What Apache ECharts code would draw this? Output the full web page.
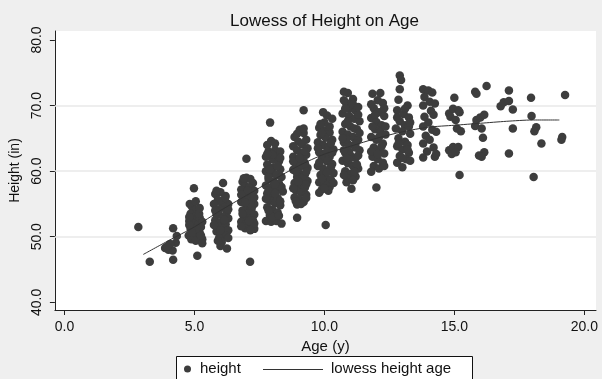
<!DOCTYPE html>
<html>
<head>
<meta charset="utf-8">
<script src="https://cdn.jsdelivr.net/npm/echarts@6/dist/echarts.min.js"></script>
<style>
  html, body { margin: 0; padding: 0; background: #efefef; }
  #chart { width: 602px; height: 379px; }
</style>
</head>
<body>
<div id="chart"></div>
<script>
// Children's height (in) by age (y), ages jittered within each year.
const kids3 = [[2.84,51.5],[3.28,46.2]];
const kids4 = [[3.87,48.3],[4.0,48.0],[4.16,47.9],[4.28,49.1],[4.32,50.1],[4.06,48.9],[4.18,46.5],[4.18,51.3],[3.95,48.5]];
const kids5 = [[4.82,55.0],[4.9,54.6],[5.05,54.2],[4.85,53.5],[5.0,53.0],[5.12,52.7],[4.8,52.4],[4.95,52.0],[5.15,51.9],[5.25,51.5],
  [4.85,51.2],[5.0,50.8],[5.2,50.6],[4.78,50.2],[4.95,50.0],[5.1,49.8],[5.3,49.6],[4.88,49.6],[5.05,49.4],[5.3,49.0],
  [5.2,52.9],[5.08,51.3],[4.98,57.4],[5.11,47.1],[4.9,50.6],[5.18,53.5],
  [4.8,51.8],[5.25,50.2],[5.3,52.3],[4.8,53.0],[5.2,54.4],[5.05,55.4]];
const kids6 = [[6.1,58.2],[6.0,56.8],[5.8,56.5],[6.2,56.2],[5.9,55.6],[6.05,55.2],[6.3,55.0],[5.75,55.0],[6.15,54.5],[5.95,54.2],
  [6.25,53.8],[5.85,53.4],[6.1,53.1],[6.3,52.8],[5.8,52.5],[6.0,52.2],[6.2,51.9],[5.9,51.6],[6.1,51.2],[6.3,51.0],
  [5.85,50.8],[6.0,50.5],[6.2,50.2],[5.95,49.8],[6.05,49.2],[6.0,48.6],[6.25,48.2],[6.15,52.6],[5.92,53.9],[6.18,55.9],
  [5.8,54.0],[6.3,54.2],[5.75,51.8],[6.3,49.8],[5.85,57.0],[6.0,51.0],[5.9,49.4]];
const kids7 = [[7.0,61.9],[7.0,59.0],[7.15,58.8],[6.85,58.4],[7.25,58.2],[6.95,57.8],[7.1,57.5],[6.8,57.2],[7.3,57.0],[7.0,56.6],
  [7.2,56.3],[6.9,56.0],[7.1,55.6],[6.8,55.3],[7.3,55.0],[7.0,54.7],[7.2,54.3],[6.85,54.0],[7.1,53.6],[7.3,53.4],
  [6.9,53.1],[7.05,52.8],[7.25,52.5],[6.8,52.3],[7.0,52.0],[7.2,51.6],[6.95,51.3],[7.3,51.2],[7.14,46.2],[7.15,55.0],
  [6.95,55.2],[7.05,57.0],
  [6.8,56.4],[7.3,56.0],[6.85,53.5],[7.3,52.0],[6.9,58.9],[7.1,52.4],[6.8,51.6],[7.15,51.0]];
const kids8 = [[7.91,67.4],[7.95,64.6],[8.1,63.2],[7.85,63.0],[8.2,62.6],[7.75,62.2],[8.0,61.8],[8.25,61.5],[7.8,61.0],[8.05,60.6],
  [8.3,60.3],[7.75,60.0],[7.95,59.7],[8.15,59.4],[8.35,59.1],[7.85,58.8],[8.05,58.4],[8.25,58.1],[7.75,57.8],[7.95,57.5],
  [8.2,57.2],[8.4,56.9],[7.8,56.6],[8.0,56.2],[8.2,55.9],[7.9,55.5],[8.1,55.1],[8.3,54.8],[7.8,54.5],[8.0,54.1],
  [8.2,53.7],[7.9,53.3],[8.1,52.9],[7.75,52.4],[7.95,52.3],[8.15,52.4],[8.35,52.0],[8.3,63.0],[8.0,62.5],[7.85,59.2],
  [8.1,64.2],[7.8,64.0],[8.3,62.0],[7.9,60.3],[8.2,60.8],[8.35,57.6],[7.85,57.0],[8.1,56.6],[8.3,55.4],[7.75,55.8],
  [8.0,53.0],[8.25,53.2],[7.85,54.0],[8.1,58.0],[7.8,62.6]];
const kids9 = [[9.2,69.3],[9.05,66.3],[9.2,65.8],[8.85,65.2],[9.3,64.8],[9.0,64.5],[9.15,64.1],[8.8,63.8],[9.35,63.5],[8.95,63.2],
  [9.1,62.8],[9.3,62.5],[8.8,62.2],[9.0,61.8],[9.2,61.5],[8.9,61.1],[9.1,60.8],[9.35,60.5],[8.8,60.2],[9.0,59.8],
  [9.25,59.5],[8.95,59.1],[9.15,58.8],[9.35,58.5],[8.85,58.2],[9.05,57.8],[9.25,57.5],[8.9,57.1],[9.1,56.7],[9.3,56.4],
  [8.85,56.0],[9.05,55.6],[9.2,55.3],[8.95,54.9],[8.95,52.9],[9.15,59.0],[8.9,60.0],[9.25,61.2],
  [8.95,65.7],[9.25,63.0],[8.8,61.5],[9.3,59.9],[9.0,58.4],[8.8,57.4],[9.3,55.9],[9.1,55.0],[8.9,55.4],[9.2,66.5],
  [9.05,62.0],[9.3,58.0]];
const kids10 = [[9.95,69.0],[10.1,68.5],[10.3,68.0],[9.8,66.6],[10.0,66.2],[10.2,65.9],[9.85,65.5],[10.05,65.1],[10.3,64.8],[9.75,64.4],
  [9.95,64.0],[10.15,63.7],[10.35,63.3],[9.8,62.9],[10.0,62.6],[10.2,62.2],[9.9,61.8],[10.1,61.5],[10.3,61.1],[9.75,60.8],
  [9.95,60.4],[10.15,60.1],[10.35,59.7],[9.85,59.4],[10.05,59.0],[10.25,58.7],[9.8,58.3],[10.0,58.0],[10.2,57.6],[9.9,57.2],
  [9.8,56.7],[10.05,51.8],[10.1,63.0],[9.9,65.8],[10.25,60.6],
  [10.2,66.8],[10.3,62.8],[9.8,61.3],[10.1,59.8],[10.35,58.2],[9.9,58.8],[10.15,57.0],[9.75,63.5],[10.0,67.4],[10.25,64.3],
  [9.85,67.2],[10.0,57.4]];
const kids11 = [[10.75,72.1],[10.9,71.9],[11.1,71.0],[10.85,70.2],[11.0,69.6],[11.2,69.2],[10.7,68.8],[10.95,68.4],[11.15,68.0],[11.35,67.6],
  [10.8,67.2],[11.0,66.8],[11.25,66.4],[10.7,66.0],[10.9,65.6],[11.1,65.2],[11.3,64.8],[10.75,64.4],[10.95,64.0],[11.2,63.6],
  [11.35,63.2],[10.8,62.8],[11.0,62.4],[11.2,62.0],[10.7,61.6],[10.9,61.2],[11.1,60.8],[11.3,60.4],[10.8,60.0],[11.0,59.6],
  [11.2,59.2],[10.9,58.8],[10.85,58.3],[11.04,57.3],[11.05,70.5],[10.85,64.9],[11.15,66.5],[10.95,63.0],[11.25,61.0],[10.8,69.5],
  [11.1,70.2],[10.75,70.8],[11.3,68.6],[10.9,67.6],[11.35,65.8],[10.7,65.0],[11.2,64.2],[10.75,63.2],[11.3,62.4],[10.95,61.8],
  [11.15,59.9],[10.75,59.4],[11.1,58.6],[11.3,69.8],[10.85,62.0]];
const kids12 = [[11.85,71.8],[12.15,71.9],[12.05,70.8],[12.25,70.4],[11.9,69.6],[12.1,69.0],[12.3,68.4],[11.8,68.1],[12.0,67.5],[12.2,67.0],
  [11.95,66.4],[12.15,66.0],[12.35,65.6],[11.8,65.2],[12.0,64.8],[12.25,64.2],[11.9,63.6],[12.1,63.2],[12.3,62.7],[11.85,62.2],
  [12.05,61.8],[12.25,61.3],[11.9,60.8],[12.1,60.4],[11.8,59.9],[12.0,57.5],[12.1,65.2],[11.95,68.6],
  [12.3,69.6],[11.8,70.2],[12.2,63.8],[11.8,63.0],[12.3,60.8],[12.35,66.8],[11.85,66.8],[12.05,62.6]];
const kids13 = [[12.9,74.6],[12.95,73.9],[12.9,72.5],[12.85,70.9],[13.2,70.0],[12.8,69.3],[13.05,68.7],[13.25,68.2],[12.9,67.6],[13.1,67.0],
  [12.75,66.5],[13.0,66.1],[13.3,65.7],[12.85,65.0],[13.1,64.5],[12.8,63.8],[13.0,63.3],[13.25,62.8],[12.9,62.3],[13.15,61.8],
  [12.8,61.3],[13.0,60.6],[13.3,61.6],[13.2,64.0],
  [13.25,66.8],[12.8,68.2],[13.2,63.3],[12.85,64.2],[13.1,69.5],[13.3,67.4],[13.0,62.0]];
const kids14 = [[13.8,72.5],[14.0,72.3],[14.15,72.0],[13.85,71.3],[14.05,70.6],[14.25,70.3],[13.8,70.0],[14.1,69.2],[13.85,68.3],[14.2,68.6],
  [14.0,67.4],[13.8,66.8],[14.15,66.3],[14.3,66.0],[13.9,65.4],[14.05,64.8],[13.8,64.2],[14.2,63.6],[13.95,63.0],[13.8,62.1],
  [14.25,62.2],[14.3,62.6]];
const kids15 = [[15.0,71.2],[14.8,68.8],[14.95,69.5],[15.15,69.3],[14.85,68.3],[15.05,67.8],[15.1,66.5],[15.25,66.1],[14.8,63.2],[14.95,63.7],
  [15.15,63.7],[14.9,62.6],[15.05,62.9],[15.2,59.4],[15.2,69.0]];
const kids16 = [[15.8,72.1],[15.85,71.8],[16.24,73.0],[15.85,67.8],[16.0,68.2],[16.15,68.6],[15.8,66.9],[16.05,66.5],[16.1,65.1],[16.15,62.9],
  [15.95,62.4],[16.05,62.2]];
const kids17 = [[16.78,69.9],[16.9,70.5],[17.1,70.7],[17.25,69.4],[17.1,72.3],[17.25,66.5],[17.1,62.7]];
const kids18 = [[17.95,71.2],[17.97,68.4],[18.15,66.7],[18.08,66.1],[18.35,64.2],[18.05,59.1]];
const kids19 = [[19.15,65.2],[19.12,64.8],[19.26,71.6]];

// Lowess smooth of height on age
const lowessAge = [3.03, 4, 5, 6, 7, 8, 9, 10, 11, 12, 13, 14, 15, 16, 17, 18, 19.04];
const lowessHeight = [47.3, 49.4, 51.5, 54.0, 56.3, 58.6, 60.8, 62.6, 63.8, 65.0, 66.0, 66.7, 67.0, 67.3, 67.6, 67.8, 67.8];

// Axis tick values
const xTicks = [0, 5, 10, 15, 20];
const yTicks = [40, 50, 60, 70, 80];
const yGrid = [50, 60, 70];

const heightPoints = [].concat(kids3, kids4, kids5, kids6, kids7, kids8, kids9, kids10,
  kids11, kids12, kids13, kids14, kids15, kids16, kids17, kids18, kids19);
const lowessPoints = lowessAge.map((a, i) => [a, lowessHeight[i]]);

const FONT = 'Liberation Sans, Arial, Helvetica, sans-serif';
const INK = '#3d3d3d';

const chart = echarts.init(document.getElementById('chart'), null, { renderer: 'canvas' });
chart.setOption({
  backgroundColor: '#efefef',
  animation: false,
  title: {
    text: 'Lowess of Height on Age',
    left: 324.5,
    textAlign: 'center',
    top: 13,
    padding: 0,
    textStyle: { fontFamily: FONT, fontSize: 17, fontWeight: 'normal', color: '#111' }
  },
  grid: {
    left: 53, right: 6, top: 31, bottom: 69,
    show: true, backgroundColor: '#ffffff', borderWidth: 0
  },
  xAxis: {
    type: 'value',
    min: -0.37, max: 20.45,
    name: 'Age (y)',
    nameLocation: 'middle',
    nameGap: 25,
    nameTextStyle: { fontFamily: FONT, fontSize: 15, color: '#111' },
    axisLine: { show: true, onZero: false, lineStyle: { color: '#222', width: 1 } },
    axisTick: { show: true, length: 5, customValues: xTicks, lineStyle: { color: '#222' } },
    axisLabel: {
      customValues: xTicks, margin: 10,
      fontFamily: FONT, fontSize: 14, color: '#111',
      formatter: v => v.toFixed(1)
    },
    splitLine: { show: false }
  },
  yAxis: {
    type: 'value',
    min: 38.83, max: 81.37,
    name: 'Height (in)',
    nameLocation: 'middle',
    nameGap: 28,
    nameTextStyle: { fontFamily: FONT, fontSize: 14, color: '#111' },
    axisLine: { show: true, onZero: false, lineStyle: { color: '#222', width: 1 } },
    axisTick: { show: true, length: 5, customValues: yTicks, lineStyle: { color: '#222' } },
    axisLabel: {
      customValues: yTicks, margin: 11, rotate: 90,
      fontFamily: FONT, fontSize: 14, color: '#111',
      formatter: v => v.toFixed(1)
    },
    splitLine: { show: false }
  },
  series: [
    {
      // horizontal grid lines, kept beneath the markers
      type: 'line',
      data: [],
      z: 1,
      silent: true,
      markLine: {
        z: 1,
        silent: true,
        symbol: 'none',
        label: { show: false },
        lineStyle: { color: '#e9e9e9', width: 1.5, type: 'solid' },
        data: yGrid.map(v => ({ yAxis: v }))
      }
    },
    {
      name: 'height',
      type: 'scatter',
      data: heightPoints,
      symbol: 'circle',
      symbolSize: 8.5,
      z: 2,
      itemStyle: { color: INK, opacity: 1 }
    },
    {
      name: 'lowess height age',
      type: 'line',
      data: lowessPoints,
      showSymbol: false,
      smooth: 0.25,
      z: 3,
      lineStyle: { color: '#333', width: 1 }
    }
  ],
  graphic: [
    {
      type: 'group',
      left: 176,
      top: 356,
      children: [
        { type: 'rect', shape: { x: 0.5, y: 0.5, width: 296, height: 30 },
          style: { fill: '#ffffff', stroke: '#111', lineWidth: 1 } },
        { type: 'circle', shape: { cx: 11.5, cy: 13, r: 3.5 }, style: { fill: INK } },
        { type: 'text', x: 24, y: 13,
          style: { text: 'height', fontFamily: FONT, fontSize: 15, fill: '#111', verticalAlign: 'middle' } },
        { type: 'line', shape: { x1: 87, y1: 13.5, x2: 147, y2: 13.5 },
          style: { stroke: '#333', lineWidth: 1 } },
        { type: 'text', x: 155, y: 13,
          style: { text: 'lowess height age', fontFamily: FONT, fontSize: 15, fill: '#111', verticalAlign: 'middle' } }
      ]
    }
  ]
});
</script>
</body>
</html>
